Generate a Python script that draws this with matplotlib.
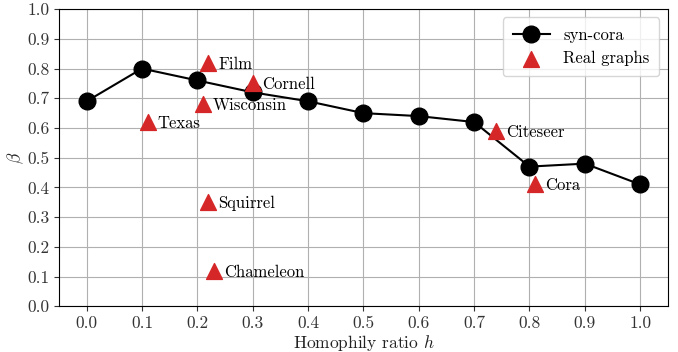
import matplotlib
matplotlib.use("Agg")
import matplotlib.pyplot as plt
import numpy as np

plt.rcParams['font.family'] = 'cmr10'
plt.rcParams['mathtext.fontset'] = 'cm'
plt.rcParams['axes.formatter.use_mathtext'] = True

# synthetic curve
h_syn = [0.0, 0.1, 0.2, 0.3, 0.4, 0.5, 0.6, 0.7, 0.8, 0.9, 1.0]
beta_syn = [0.69, 0.80, 0.76, 0.72, 0.69, 0.65, 0.64, 0.62, 0.47, 0.48, 0.41]

# real graphs
names = ["Texas", "Film", "Cornell", "Wisconsin", "Squirrel", "Chameleon", "Citeseer", "Cora"]
h_real = [0.11, 0.22, 0.30, 0.21, 0.22, 0.23, 0.74, 0.81]
beta_real = [0.62, 0.82, 0.75, 0.68, 0.35, 0.12, 0.59, 0.41]

fig, ax = plt.subplots(figsize=(6.78, 3.52), dpi=100)
fig.subplots_adjust(left=0.087, right=0.985, top=0.974, bottom=0.13)

ax.plot(h_syn, beta_syn, color='black', marker='o', markersize=12, linewidth=1.5,
        label='syn-cora', zorder=3)
ax.scatter(h_real, beta_real, marker='^', s=130, color='#d62728', label='Real graphs', zorder=4)
for n, x, y in zip(names, h_real, beta_real):
    ax.annotate(n, (x, y), xytext=(7, -1), textcoords='offset points',
                fontsize=12, va='center', ha='left')

ticks = np.arange(0, 1.01, 0.1)
ax.set_xlim(-0.05, 1.05)
ax.set_ylim(0, 1.0)
ax.set_xticks(ticks)
ax.set_yticks(ticks)
ax.set_xticklabels([f"{v:.1f}" for v in ticks])
ax.set_yticklabels([f"{v:.1f}" for v in ticks])
ax.tick_params(labelsize=12.5, colors='#333333', labelcolor='#333333')
ax.grid(True, color='#b0b0b0', linewidth=0.8)
ax.set_axisbelow(True)
ax.set_xlabel(r"Homophily ratio $h$", fontsize=12.5, labelpad=1, color='#222222')
ax.set_ylabel(r"$\beta$", fontsize=12.5, labelpad=1, color='#222222')
ax.legend(loc='upper right', fontsize=12, borderpad=0.6, handlelength=2.2)

fig.savefig("out.png")
